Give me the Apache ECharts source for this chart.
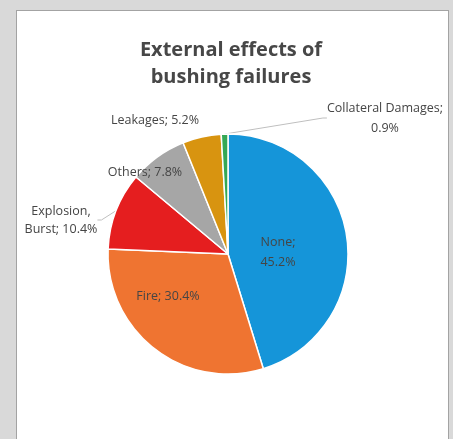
<!DOCTYPE html>
<html>
<head>
<meta charset="utf-8">
<script src="https://cdn.jsdelivr.net/npm/echarts@6/dist/echarts.min.js"></script>
<style>
  html, body { margin: 0; padding: 0; width: 453px; height: 439px; overflow: hidden; background: #d9d9d9; }
  #panel { position: absolute; left: 16px; top: 10px; width: 431px; height: 460px; background: #ffffff; border: 1px solid #a3a3a3; }
  #chart { position: absolute; left: 0; top: 0; width: 453px; height: 439px; }
</style>
</head>
<body>
<div id="panel"></div>
<div id="chart"></div>
<script>
const titleText = 'External effects of\nbushing failures';
const categories = ['None', 'Fire', 'Explosion, Burst', 'Others', 'Leakages', 'Collateral Damages'];
const values = [45.2, 30.4, 10.4, 7.8, 5.2, 0.9];
const colors = ['#1595d9', '#ef7431', '#e51e1f', '#a6a6a6', '#d89410', '#35a855'];

// label anchor points (label layout only)
const labelPos = [[278, 252], [168, 296], [61, 220], [145, 172], [155, 120], [385, 118]];

function labelText(i) {
  const n = categories[i], v = values[i] + '%';
  if (i === 0) return n + ';\n' + v;
  if (i === 2) return n.replace(', ', ',\n') + '; ' + v;
  if (i === 5) return n + ';\n' + v;
  return n + '; ' + v;
}

const chart = echarts.init(document.getElementById('chart'), null, { renderer: 'canvas' });
chart.setOption({
  animation: false,
  backgroundColor: 'transparent',
  title: {
    text: titleText,
    left: 226, top: 32,
    textAlign: 'center',
    textStyle: { fontFamily: 'Open Sans', fontWeight: 'bold', fontSize: 20, lineHeight: 27, color: '#474747' }
  },
  series: [{
    type: 'pie',
    center: [228, 254],
    radius: 120,
    startAngle: 90,
    clockwise: true,
    avoidLabelOverlap: false,
    itemStyle: { borderColor: '#ffffff', borderWidth: 1.5 },
    label: {
      show: true,
      position: 'outside',
      fontFamily: 'Open Sans',
      fontSize: 12.5,
      lineHeight: 20,
      color: '#454545',
      textAlign: 'center',
      formatter: p => labelText(p.dataIndex)
    },
    labelLine: { show: false, length: 8, length2: 4, lineStyle: { color: '#bfbfbf', width: 1 } },
    labelLayout: p => ({ x: labelPos[p.dataIndex][0], y: labelPos[p.dataIndex][1], align: 'center', verticalAlign: 'middle' }),
    data: categories.map((c, i) => ({
      name: c,
      value: values[i],
      itemStyle: { color: colors[i] },
      label: i === 2 ? { lineHeight: 18 } : {},
      labelLine: { show: i === 5 || i === 2 }
    }))
  }]
});
</script>
</body>
</html>
